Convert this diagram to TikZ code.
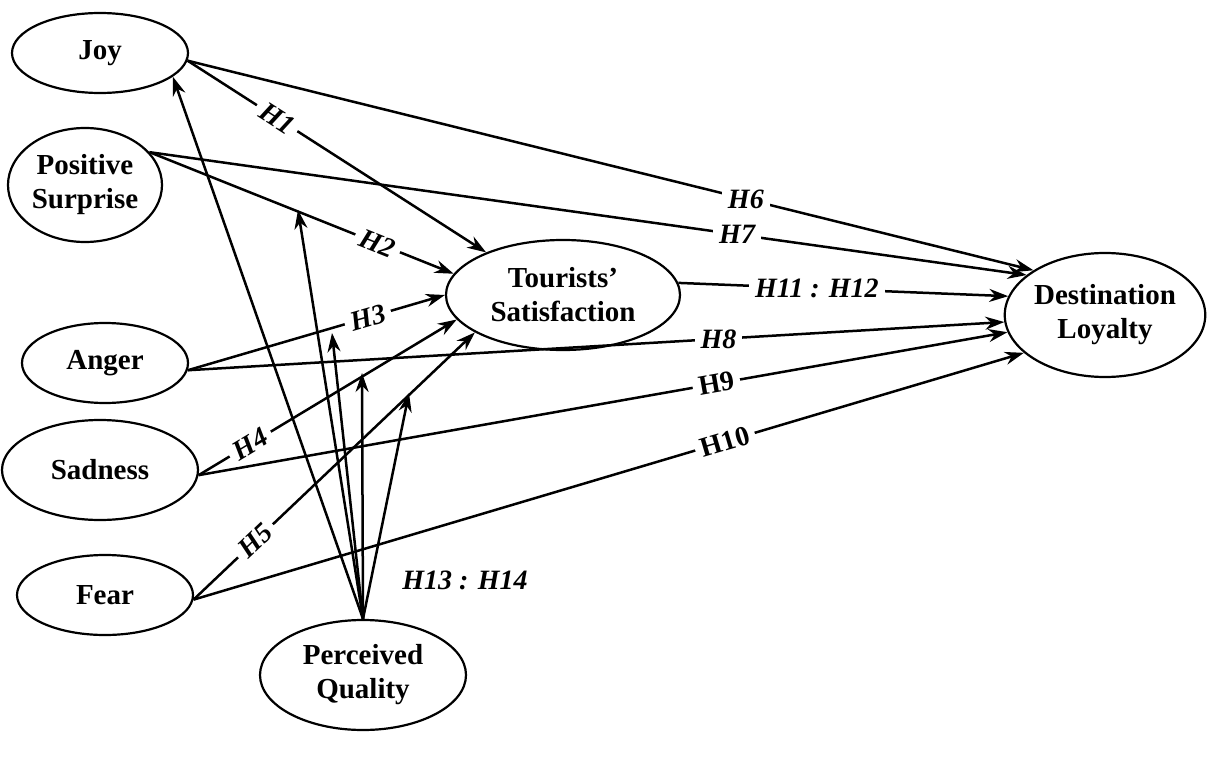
\documentclass[tikz,border=0pt]{standalone}
\usepackage{fontspec}
\setmainfont{Liberation Serif}
\usetikzlibrary{shapes.geometric,arrows.meta}
\begin{document}
\begin{tikzpicture}[x=1pt,y=-1pt,
  ell/.style={ellipse,draw,line width=2.2pt,inner sep=0pt,align=center,font=\fontsize{29}{34}\selectfont\bfseries},
  con/.style={line width=2.5pt},
  arr/.style={con,-{Stealth[length=19pt,width=13pt]}},
  lab/.style={fill=white,inner sep=6pt,font=\fontsize{28}{30}\selectfont\bfseries\itshape}]
\useasboundingbox (0,0) rectangle (1223,773);
\node[ell,minimum width=176pt,minimum height=80pt] (joy) at (100,53) {Joy};
\node[ell,minimum width=154pt,minimum height=114pt] (ps) at (85,185) {Positive\\Surprise};
\node[ell,minimum width=234pt,minimum height=110pt] (sat) at (563,295) {Tourists'\\Satisfaction};
\node[ell,minimum width=200pt,minimum height=124pt] (dl) at (1105,315) {Destination\\Loyalty};
\node[ell,minimum width=166pt,minimum height=80pt] (ang) at (105,363) {Anger};
\node[ell,minimum width=196pt,minimum height=100pt] (sad) at (100,470) {Sadness};
\node[ell,minimum width=176pt,minimum height=80pt] (fear) at (105,595) {Fear};
\node[ell,minimum width=206pt,minimum height=110pt] (pq) at (363,675) {Perceived\\Quality};
\coordinate (t1) at (298,210);
\coordinate (t2) at (332,333);
\coordinate (t3) at (362,373);
\coordinate (t4) at (409,393);
% perceived quality arrows
\draw[arr] (pq.north) -- (joy.-18);
\draw[arr] (pq.north) -- (t1);
\draw[arr] (pq.north) -- (t2);
\draw[arr] (pq.north) -- (t3);
\draw[arr] (pq.north) -- (t4);
% to satisfaction
\draw[arr] (joy.-5) -- node[lab,sloped,pos=0.3]{H1} (sat.151);
\draw[arr] (ps.27) -- node[lab,sloped,pos=0.75]{H2} (sat.169);
\draw[arr] (ang.-5) -- node[lab,sloped,pos=0.7]{H3} (sat.180);
\draw[arr] (sad.-3) -- node[lab,sloped,pos=0.2]{H4} (sat.193);
\draw[arr] (fear.-3) -- node[lab,sloped,pos=0.22]{H5} (sat.203);
% to loyalty
\draw[arr] (joy.-5) -- node[lab,pos=0.66]{H6} (dl.148);
\draw[arr] (ps.27) -- node[lab,pos=0.67]{H7} (dl.153);
\draw[arr] (ang.-5) -- node[lab,pos=0.65]{H8} (dl.184);
\draw[arr] (sad.-3) -- node[lab,sloped,pos=0.64,font=\fontsize{28}{30}\selectfont\bfseries]{H9} (dl.190);
\draw[arr] (fear.-3) -- node[lab,sloped,pos=0.64,font=\fontsize{28}{30}\selectfont\bfseries]{H10} (dl.205);
\draw[arr] (sat.6) -- node[lab,pos=0.42]{H11 : H12} (dl.169);
\node[lab,fill=none] (h13) at (465,580) {H13 : H14};
\end{tikzpicture}
\end{document}
